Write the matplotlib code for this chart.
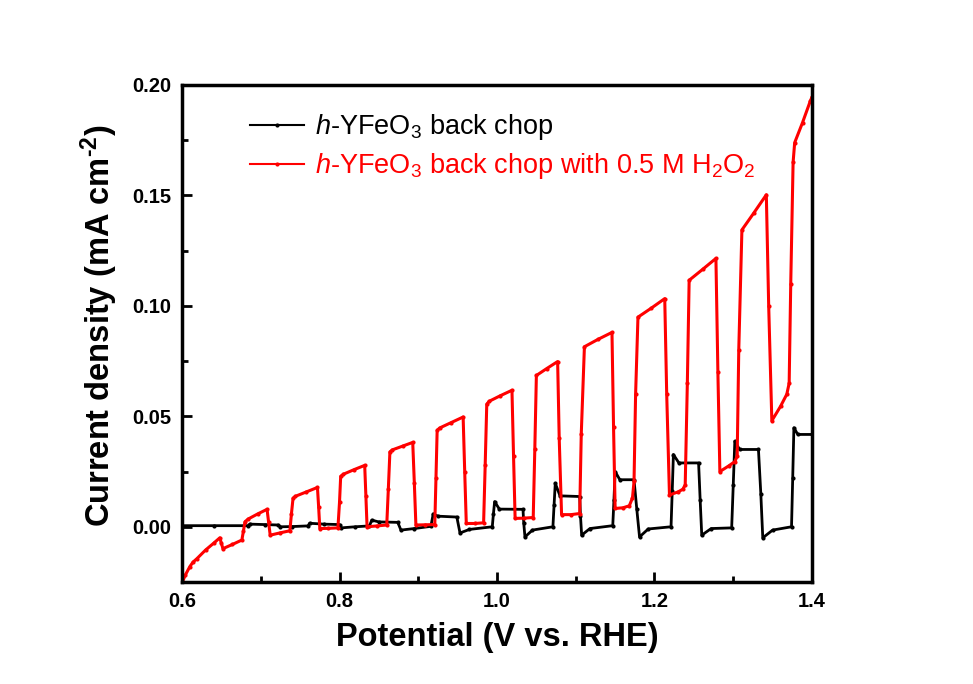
import matplotlib
matplotlib.use("Agg")
import matplotlib.pyplot as plt
from matplotlib import font_manager
from matplotlib.ticker import MultipleLocator

# ---------------- data ----------------
red_v = [0.600, 0.604, 0.610, 0.614, 0.619, 0.630, 0.640, 0.648,
         0.650, 0.652, 0.664, 0.676,
         0.678, 0.680, 0.684, 0.696, 0.708,
         0.710, 0.712, 0.724, 0.737,
         0.739, 0.741, 0.744, 0.758, 0.772,
         0.7735, 0.775, 0.786, 0.798,
         0.800, 0.8015, 0.805, 0.818, 0.832,
         0.8335, 0.835, 0.848, 0.860,
         0.862, 0.864, 0.867, 0.880, 0.893,
         0.895, 0.897, 0.909, 0.921,
         0.9225, 0.924, 0.927, 0.942, 0.957,
         0.959, 0.961, 0.972, 0.983,
         0.985, 0.987, 0.990, 1.004, 1.019,
         1.021, 1.023, 1.034, 1.046,
         1.048, 1.050, 1.063, 1.077,
         1.079, 1.082, 1.094, 1.105,
         1.107, 1.111, 1.128, 1.146,
         1.148, 1.150, 1.160, 1.168, 1.172, 1.174,
         1.176, 1.179, 1.196, 1.213,
         1.2155, 1.219, 1.230, 1.236, 1.239,
         1.2417, 1.244, 1.261, 1.278,
         1.2805, 1.283, 1.294, 1.302, 1.305,
         1.307, 1.311, 1.326, 1.342,
         1.345, 1.349, 1.360, 1.368, 1.371,
         1.373, 1.376, 1.378, 1.388, 1.398, 1.400]
red_j = [-0.0255, -0.0220, -0.0180, -0.0160, -0.0144, -0.0105, -0.0075, -0.0050,
         -0.0075, -0.0099, -0.0080, -0.0060,
         -0.0020, 0.0023, 0.0035, 0.0058, 0.0079,
         0.0020, -0.0038, -0.0028, -0.0018,
         0.0060, 0.0129, 0.0138, 0.0158, 0.0178,
         0.0090, -0.0008, -0.0007, -0.0005,
         0.0110, 0.0228, 0.0238, 0.0258, 0.0278,
         0.0140, 0.0000, 0.0004, 0.0008,
         0.0170, 0.0339, 0.0348, 0.0365, 0.0382,
         0.0200, 0.0008, 0.0009, 0.0010,
         0.0220, 0.0436, 0.0447, 0.0472, 0.0497,
         0.0250, 0.0015, 0.0015, 0.0018,
         0.0280, 0.0555, 0.0568, 0.0593, 0.0618,
         0.0320, 0.0038, 0.0039, 0.0042,
         0.0350, 0.0685, 0.0716, 0.0748,
         0.0400, 0.0055, 0.0055, 0.0060,
         0.0420, 0.0815, 0.0848, 0.0880,
         0.0450, 0.0083, 0.0086, 0.0095, 0.0130, 0.0205,
         0.0600, 0.0949, 0.0990, 0.1033,
         0.0600, 0.0144, 0.0158, 0.0170, 0.0190,
         0.0650, 0.1116, 0.1165, 0.1215,
         0.0700, 0.0250, 0.0275, 0.0295, 0.0320,
         0.0800, 0.1344, 0.1420, 0.1503,
         0.1000, 0.0480, 0.0545, 0.0600, 0.0650,
         0.1100, 0.1650, 0.1739, 0.1830, 0.1929, 0.1945]

black_v = [0.600, 0.640, 0.684, 0.686, 0.705, 0.722, 0.725, 0.740, 0.760,
           0.762, 0.780, 0.800, 0.802, 0.820, 0.838,
           0.841, 0.850, 0.874, 0.878, 0.895, 0.916,
           0.919, 0.925, 0.949, 0.953, 0.965, 0.994,
           0.9955, 0.997, 1.003, 1.033, 1.034, 1.0355, 1.045, 1.071,
           1.0725, 1.074, 1.080, 1.105, 1.106, 1.1075, 1.118, 1.147,
           1.1485, 1.150, 1.156, 1.174, 1.1775, 1.181, 1.192, 1.221,
           1.2225, 1.224, 1.231, 1.256, 1.258, 1.260, 1.272, 1.298,
           1.300, 1.302, 1.308, 1.332, 1.335, 1.3375, 1.350, 1.374,
           1.3755, 1.377, 1.382, 1.400]
black_j = [0.0005, 0.0005, 0.0005, 0.0012, 0.0010, 0.0008, 0.0000, 0.0001, 0.0004,
           0.0016, 0.0012, 0.0010, -0.0005, 0.0000, 0.0004,
           0.0030, 0.0022, 0.0020, -0.0015, -0.0008, 0.0002,
           0.0058, 0.0048, 0.0044, -0.0028, -0.0012, 0.0000,
           0.0060, 0.0114, 0.0080, 0.0079, 0.0015, -0.0046, -0.0015, 0.0000,
           0.0100, 0.0197, 0.0140, 0.0137, 0.0050, -0.0038, -0.0008, 0.0005,
           0.0120, 0.0250, 0.0213, 0.0213, 0.0080, -0.0046, -0.0010, 0.0000,
           0.0160, 0.0327, 0.0289, 0.0289, 0.0120, -0.0038, -0.0008, -0.0005,
           0.0190, 0.0387, 0.0350, 0.0350, 0.0150, -0.0050, -0.0015, 0.0000,
           0.0220, 0.0448, 0.0418, 0.0418]

label_black = r"$\mathit{h}$-YFeO$_3$ back chop"
label_red = r"$\mathit{h}$-YFeO$_3$ back chop with 0.5 M H$_2$O$_2$"
xlabel = "Potential (V vs. RHE)"
ylabel = r"Current density (mA cm$^{\text{-2}}$)"
xticks = [0.6, 0.8, 1.0, 1.2, 1.4]
yticks = [0.00, 0.05, 0.10, 0.15, 0.20]

# ---------------- fonts ----------------
names = {f.name for f in font_manager.fontManager.ttflist}
base = "Liberation Sans" if "Liberation Sans" in names else "DejaVu Sans"

plt.rcParams["font.family"] = [base]
plt.rcParams["mathtext.fontset"] = "custom"
plt.rcParams["mathtext.rm"] = base + ":bold"
plt.rcParams["mathtext.it"] = base + ":italic"
plt.rcParams["mathtext.bf"] = base + ":bold"
plt.rcParams["mathtext.default"] = "regular"

fig = plt.figure(figsize=(9.73, 6.84), dpi=100)
ax = fig.add_axes([182 / 973, 1 - 582 / 684, 630 / 973, 497 / 684])

ax.plot(black_v, black_j, color="black", lw=2.0, marker="o", ms=3.0,
        mew=0, label=label_black)
ax.plot(red_v, red_j, color="#ff0000", lw=2.2, marker="o", ms=3.0,
        mew=0, label=label_red)

ax.set_xlim(0.6, 1.4)
ax.set_ylim(-0.025, 0.20)
ax.set_xticks(xticks)
ax.set_yticks(yticks)
ax.set_xticklabels([f"{t:.1f}" for t in xticks])
ax.set_yticklabels([f"{t:.2f}" for t in yticks])
ax.xaxis.set_minor_locator(MultipleLocator(0.1))
ax.yaxis.set_minor_locator(MultipleLocator(0.025))

ax.tick_params(which="both", direction="in", top=False, right=False, width=2)
ax.tick_params(which="major", length=7)
ax.tick_params(which="minor", length=4)
ax.tick_params(axis="x", pad=7)
ax.tick_params(axis="y", pad=8)
for lab in ax.get_xticklabels() + ax.get_yticklabels():
    lab.set_fontweight("bold")
    lab.set_fontsize(14.5)
for sp in ax.spines.values():
    sp.set_linewidth(2.5)

ax.set_xlabel(xlabel, fontsize=23.5, fontweight="bold", labelpad=8)
ax.set_ylabel(ylabel, fontsize=23.5, fontweight="bold")
ax.yaxis.set_label_coords(-0.098, 0.515)

leg = ax.legend(loc="upper left", bbox_to_anchor=(0.108, 0.945), frameon=False,
                handlelength=2.0, handletextpad=0.4,
                labelspacing=0.33, borderpad=0, borderaxespad=0,
                labelcolor="linecolor",
                prop={"family": base, "size": 19.5})
for h in leg.legend_handles:
    h.set_linewidth(1.5)
for t in leg.get_texts():
    t.set_fontweight("normal")

fig.savefig("out.png", dpi=100, facecolor="white")
